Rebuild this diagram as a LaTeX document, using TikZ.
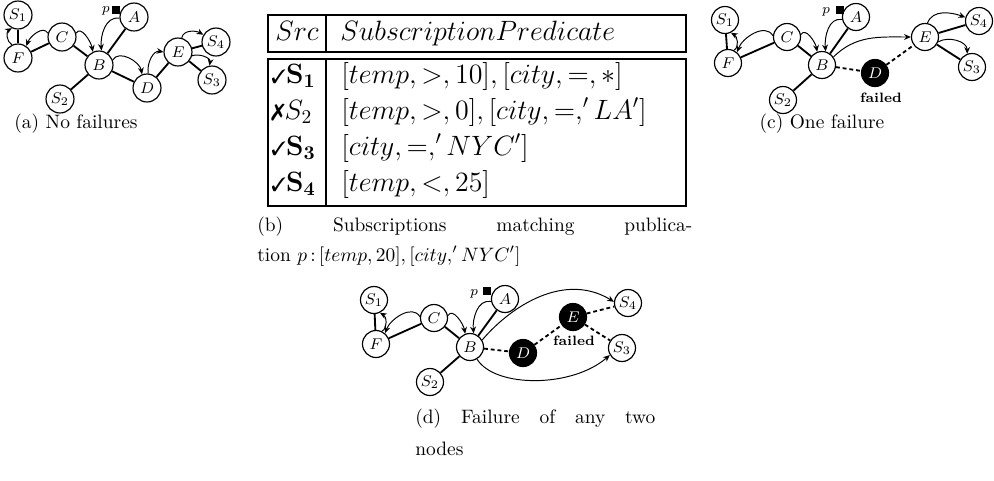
\documentclass[tikz,border=0pt]{standalone}
\usepackage{amsmath,amssymb}
\usepackage{pifont}
\usetikzlibrary{arrows.meta}

\begin{document}
\begin{tikzpicture}[x=0.515pt,y=0.515pt,
  vtx/.style={circle,draw,line width=0.6pt,minimum size=13.9pt,inner sep=0pt,font=\footnotesize},
  bigvtx/.style={vtx,minimum size=14.4pt},
  dead/.style={vtx,fill=black,text=white},
  edge/.style={line width=0.95pt},
  lost/.style={line width=0.95pt,dash pattern=on 2pt off 1.5pt},
  flow/.style={line width=0.5pt,-{Stealth[length=3.5pt,width=3pt]}},
  pub/.style={fill=black,minimum size=4.4pt,inner sep=0pt},
  plab/.style={font=\scriptsize,inner sep=0pt},
  faillab/.style={font=\scriptsize\bfseries,inner sep=0pt},
  captxt/.style={inner sep=0pt,font=\normalsize},
  tab/.style={inner sep=0pt,font=\Large},
  tabline/.style={line width=1.5pt}
]
\useasboundingbox (0,0) rectangle (994,-480);
\newcommand{\okmark}{{\normalsize\ding{51}}}
\newcommand{\nomark}{{\large\ding{55}}}

% ---------- (a) no failures ----------
\begin{scope}
\node[bigvtx] (a-S1) at (18,-15) {$S_1$};
\node[bigvtx] (a-F)  at (18,-58) {$F$};
\node[bigvtx] (a-C)  at (62,-37) {$C$};
\node[bigvtx] (a-B)  at (99,-65) {$B$};
\node[bigvtx] (a-A)  at (134,-17) {$A$};
\node[bigvtx] (a-S2) at (60,-99) {$S_2$};
\node[bigvtx] (a-D)  at (147,-88) {$D$};
\node[bigvtx] (a-E)  at (178,-52) {$E$};
\node[bigvtx] (a-S4) at (216,-42) {$S_4$};
\node[bigvtx] (a-S3) at (212,-80) {$S_3$};
\node[pub] (a-p) at (116,-10) {};
\node[plab] (a-pl) at (106,-11) {$p$};
\draw[edge] (a-S1) -- (a-F);
\draw[edge] (a-F) -- (a-C);
\draw[edge] (a-C) -- (a-B);
\draw[edge] (a-A) -- (a-B);
\draw[edge] (a-B) -- (a-S2);
\draw[edge] (a-B) -- (a-D);
\draw[edge] (a-D) -- (a-E);
\draw[edge] (a-E) -- (a-S4);
\draw[edge] (a-E) -- (a-S3);
\draw[flow] (a-F.115) to[out=150,in=210] (a-S1.245);
\draw[flow] (a-C.165) to[out=120,in=70] (a-F.55);
\draw[flow] (a-C.15) to[out=60,in=100] (a-B.115);
\draw[flow] (a-A.185) to[out=170,in=95] (a-B.80);
\draw[flow] (a-B.20) to[out=60,in=100] (a-D.110);
\draw[flow] (a-D.85) to[out=100,in=170] (a-E.180);
\draw[flow] (a-E.75) to[out=80,in=150] (a-S4.150);
\draw[flow] (a-E.-15) to[out=20,in=80] (a-S3.100);
\node[captxt] (a-cap) at (76,-124) {(a) No failures};
\end{scope}

% ---------- (b) subscription table ----------
\draw[tabline] (268,-15) rectangle (686,-52);
\draw[tabline] (326,-15) -- (326,-52);
\draw[tabline] (268,-59) rectangle (686,-206);
\draw[tabline] (326,-59) -- (326,-206);
\node[tab,anchor=base west] (h1) at (275,-40) {$Src$};
\node[tab,anchor=base west,font=\fontsize{15.2}{18}\selectfont] (h2) at (340,-40) {$SubscriptionPredicate$};
\node[tab,anchor=base west] (r1a) at (271,-83) {\okmark$\mathbf{S_1}$};
\node[tab,anchor=base west] (r1b) at (341,-83) {$[temp,>,10],[city,=,*]$};
\node[tab,anchor=base west] (r2a) at (271,-119) {\nomark$S_2$};
\node[tab,anchor=base west] (r2b) at (341,-119) {$[temp,>,0],[city,=,'LA']$};
\node[tab,anchor=base west] (r3a) at (271,-155) {\okmark$\mathbf{S_3}$};
\node[tab,anchor=base west] (r3b) at (341,-155) {$[city,=,'NYC']$};
\node[tab,anchor=base west] (r4a) at (271,-191) {\okmark$\mathbf{S_4}$};
\node[tab,anchor=base west] (r4b) at (341,-191) {$[temp,<,25]$};
\node[captxt,anchor=base west] (b-cap1) at (257,-231) {\makebox[224pt][s]{(b) Subscriptions matching publica-}};
\node[captxt,anchor=base west] (b-cap2) at (257,-261) {tion $p\,{:}\,[temp,20],[city,'NYC']$};

% ---------- (c) one failure ----------
\begin{scope}
\node[vtx] (c-S1) at (725,-20) {$S_1$};
\node[vtx] (c-F)  at (728,-63) {$F$};
\node[vtx] (c-C)  at (787,-37) {$C$};
\node[vtx] (c-B)  at (822,-65) {$B$};
\node[vtx] (c-A)  at (856,-17) {$A$};
\node[vtx] (c-S2) at (783,-100) {$S_2$};
\node[dead] (c-D) at (875,-73) {$D$};
\node[vtx] (c-E)  at (925,-37) {$E$};
\node[vtx] (c-S4) at (979,-21) {$S_4$};
\node[vtx] (c-S3) at (972,-67) {$S_3$};
\node[pub] (c-p) at (840,-10) {};
\node[plab] (c-pl) at (826,-12) {$p$};
\node[faillab] (c-fail) at (881,-98) {failed};
\draw[edge] (c-S1) -- (c-F);
\draw[edge] (c-F) -- (c-C);
\draw[edge] (c-C) -- (c-B);
\draw[edge] (c-A) -- (c-B);
\draw[edge] (c-B) -- (c-S2);
\draw[lost] (c-B) -- (c-D);
\draw[lost] (c-D) -- (c-E);
\draw[edge] (c-E) -- (c-S4);
\draw[edge] (c-E) -- (c-S3);
\draw[flow] (c-F.65) to[out=30,in=-30] (c-S1.-65);
\draw[flow] (c-C.175) to[out=120,in=70] (c-F.50);
\draw[flow] (c-C.10) to[out=60,in=100] (c-B.110);
\draw[flow] (c-A.190) to[out=170,in=95] (c-B.75);
\draw[flow] (c-B.35) to[out=45,in=180] (c-E.180);
\draw[flow] (c-E.80) to[out=70,in=160] (c-S4.165);
\draw[flow] (c-E.-20) to[out=30,in=90] (c-S3.110);
\node[captxt] (c-cap) at (822,-124) {(c) One failure};
\end{scope}

% ---------- (d) two failures ----------
\begin{scope}
\node[vtx] (d-S1) at (374,-300) {$S_1$};
\node[vtx] (d-F)  at (376,-344) {$F$};
\node[vtx] (d-C)  at (434,-318) {$C$};
\node[vtx] (d-B)  at (470,-347) {$B$};
\node[vtx] (d-A)  at (505,-299) {$A$};
\node[vtx] (d-S2) at (430,-382) {$S_2$};
\node[dead] (d-D) at (523,-353) {$D$};
\node[dead] (d-E) at (573,-317) {$E$};
\node[vtx] (d-S4) at (628,-303) {$S_4$};
\node[vtx] (d-S3) at (622,-348) {$S_3$};
\node[pub] (d-p) at (487,-291) {};
\node[plab] (d-pl) at (474,-294) {$p$};
\node[faillab] (d-fail) at (574,-341) {failed};
\draw[edge] (d-S1) -- (d-F);
\draw[edge] (d-F) -- (d-C);
\draw[edge] (d-C) -- (d-B);
\draw[edge] (d-A) -- (d-B);
\draw[edge] (d-B) -- (d-S2);
\draw[lost] (d-B) -- (d-D);
\draw[lost] (d-D) -- (d-E);
\draw[lost] (d-E) -- (d-S4);
\draw[lost] (d-E) -- (d-S3);
\draw[flow] (d-F.65) to[out=30,in=-30] (d-S1.-65);
\draw[flow] (d-C.175) to[out=120,in=70] (d-F.50);
\draw[flow] (d-C.10) to[out=60,in=100] (d-B.110);
\draw[flow] (d-A.190) to[out=170,in=95] (d-B.75);
\draw[flow] (d-B.30) .. controls (512,-305) and (565,-272) .. (d-S4.175);
\draw[flow] (d-B.-60) .. controls (495,-388) and (572,-388) .. (d-S3.-150);
\node[captxt,anchor=base west] (d-cap1) at (415,-423) {\makebox[123.6pt][s]{(d) Failure of any two}};
\node[captxt,anchor=base west] (d-cap2) at (415,-455) {nodes};
\end{scope}
\end{tikzpicture}
\end{document}
